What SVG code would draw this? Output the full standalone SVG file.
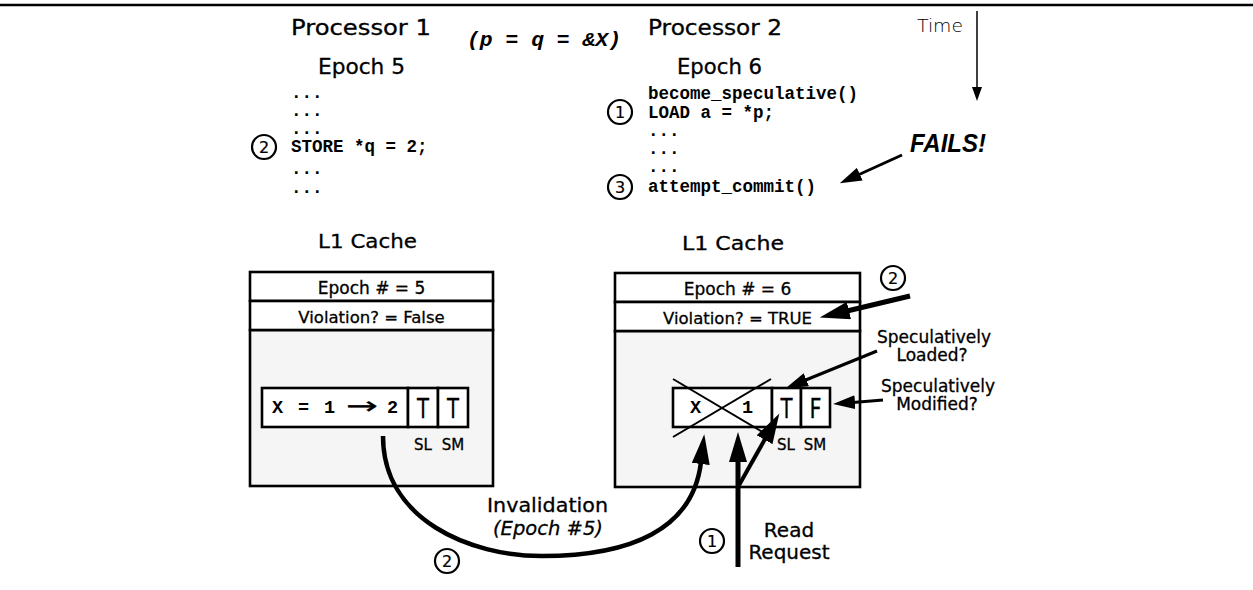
<svg xmlns="http://www.w3.org/2000/svg" width="1253" height="590" viewBox="0 0 1253 590">
<style>
.s{font-family:"DejaVu Sans","Liberation Sans",sans-serif;fill:#000;stroke:#000;stroke-width:0.3}
.m{font-family:"Liberation Mono","Courier New",monospace;font-weight:bold;fill:#000}
.box{fill:#fff;stroke:#000;stroke-width:2.6}
.gray{fill:#f5f5f5;stroke:#000;stroke-width:2.6}
.circ{fill:#fff;stroke:#000;stroke-width:2.2}
.ln{fill:none;stroke:#000}
.mid{text-anchor:middle}
.d{font-size:16px;stroke-width:0.2}
</style>
<defs>
<marker id="ah" markerUnits="userSpaceOnUse" viewBox="0 0 32 18" markerWidth="32" markerHeight="18" refX="2" refY="9" orient="auto"><path d="M0,0 L30,9 L0,18 z" fill="#000"/></marker>
<marker id="as" markerUnits="userSpaceOnUse" viewBox="0 0 24 14" markerWidth="24" markerHeight="14" refX="2" refY="7" orient="auto"><path d="M0,0 L22,7 L0,14 z" fill="#000"/></marker>
<marker id="at" markerUnits="userSpaceOnUse" viewBox="0 0 15 10" markerWidth="15" markerHeight="10" refX="1" refY="5" orient="auto"><path d="M0,0 L14,5 L0,10 z" fill="#000"/></marker>
</defs>

<line x1="0" y1="5" x2="1253" y2="5" stroke="#000" stroke-width="2.5"/>

<g id="header">
<text class="s" x="291" y="35" font-size="21" textLength="140" lengthAdjust="spacingAndGlyphs">Processor 1</text>
<text class="m" x="467" y="46" font-size="21" font-style="italic" textLength="154" lengthAdjust="spacingAndGlyphs">(p = q = &amp;X)</text>
<text class="s" x="648" y="35" font-size="21" textLength="134" lengthAdjust="spacingAndGlyphs">Processor 2</text>
<text x="917" y="32" font-family="DejaVu Sans,Liberation Sans,sans-serif" font-size="17" font-weight="200" fill="#000" textLength="46" lengthAdjust="spacingAndGlyphs">Time</text>
<text class="s" x="318" y="74" font-size="21" textLength="87" lengthAdjust="spacingAndGlyphs">Epoch 5</text>
<text class="s" x="677" y="74" font-size="21" textLength="85" lengthAdjust="spacingAndGlyphs">Epoch 6</text>
<text x="910" y="152" font-family="Liberation Sans,Arial,sans-serif" font-weight="bold" font-style="italic" font-size="25" textLength="76" lengthAdjust="spacingAndGlyphs">FAILS!</text>
</g>

<g id="code1">
<text class="m" x="291" y="98" font-size="17.5">...</text>
<text class="m" x="291" y="116" font-size="17.5">...</text>
<text class="m" x="291" y="134" font-size="17.5">...</text>
<text class="m" x="291" y="152" font-size="17.5">STORE *q = 2;</text>
<text class="m" x="291" y="174" font-size="17.5">...</text>
<text class="m" x="291" y="193" font-size="17.5">...</text>
<circle class="circ" cx="264" cy="147" r="12"/>
<text class="s mid d" x="264" y="153">2</text>
</g>

<g id="code2">
<text class="m" x="648" y="99" font-size="17.5">become_speculative()</text>
<text class="m" x="648" y="118" font-size="17.5">LOAD a = *p;</text>
<text class="m" x="648" y="136" font-size="17.5">...</text>
<text class="m" x="648" y="154" font-size="17.5">...</text>
<text class="m" x="648" y="172" font-size="17.5">...</text>
<text class="m" x="648" y="192" font-size="17.5">attempt_commit()</text>
<circle class="circ" cx="620" cy="112" r="12"/>
<text class="s mid d" x="620" y="118">1</text>
<circle class="circ" cx="620" cy="187" r="12"/>
<text class="s mid d" x="620" y="193">3</text>
</g>

<g id="cache1">
<text class="s" x="318" y="248" font-size="20" textLength="99" lengthAdjust="spacingAndGlyphs">L1 Cache</text>
<rect class="gray" x="250" y="330" width="243" height="156"/>
<rect class="box" x="250" y="272" width="243" height="29"/>
<rect class="box" x="250" y="301" width="243" height="29"/>
<text class="s mid" x="371.5" y="294" font-size="17">Epoch # = 5</text>
<text class="s mid" x="371.5" y="322.5" font-size="16.5">Violation? = False</text>
<rect class="box" x="262" y="388" width="146" height="39"/>
<rect class="box" x="408" y="388" width="30" height="39"/>
<rect class="box" x="438" y="388" width="30" height="39"/>
<text class="m" x="272" y="413" font-size="18.5" textLength="63" lengthAdjust="spacing">X = 1</text>
<text class="s" x="346" y="414" font-size="24" textLength="32" lengthAdjust="spacingAndGlyphs" stroke-width="0.8">→</text>
<text class="m" x="387" y="413" font-size="18.5">2</text>
<text class="s" x="417" y="418" font-size="27" textLength="12" lengthAdjust="spacingAndGlyphs">T</text>
<text class="s" x="447" y="418" font-size="27" textLength="12" lengthAdjust="spacingAndGlyphs">T</text>
<text class="s mid" x="423" y="450" font-size="15">SL</text>
<text class="s mid" x="453" y="450" font-size="15">SM</text>
</g>

<g id="cache2">
<text class="s" x="682" y="250" font-size="20" textLength="102" lengthAdjust="spacingAndGlyphs">L1 Cache</text>
<rect class="gray" x="615" y="331" width="245" height="156"/>
<rect class="box" x="615" y="273" width="245" height="29"/>
<rect class="box" x="615" y="302" width="245" height="29"/>
<text class="s mid" x="737.5" y="295" font-size="17">Epoch # = 6</text>
<text class="s mid" x="737.5" y="323.5" font-size="16.5">Violation? = TRUE</text>
<rect class="box" x="673" y="388" width="99" height="39"/>
<rect class="box" x="772" y="388" width="29" height="39"/>
<rect class="box" x="801" y="388" width="29" height="39"/>
<text class="m" x="690" y="413" font-size="18.5">X</text>
<text class="m" x="742" y="413" font-size="18.5">1</text>
<text class="s" x="780.5" y="418" font-size="27" textLength="12" lengthAdjust="spacingAndGlyphs">T</text>
<text class="s" x="809.5" y="418" font-size="27" textLength="12" lengthAdjust="spacingAndGlyphs">F</text>
<line class="ln" x1="673" y1="379" x2="771" y2="437" stroke-width="2"/>
<line class="ln" x1="771" y1="379" x2="673" y2="437" stroke-width="2"/>
<text class="s mid" x="786" y="450" font-size="15">SL</text>
<text class="s mid" x="815" y="450" font-size="15">SM</text>
</g>

<g id="labels">
<text class="s mid" x="934" y="343" font-size="17">Speculatively</text>
<text class="s mid" x="932" y="361" font-size="17">Loaded?</text>
<text class="s mid" x="938" y="392" font-size="17">Speculatively</text>
<text class="s mid" x="937" y="410" font-size="17">Modified?</text>
<text class="s" x="487" y="512" font-size="19" textLength="121" lengthAdjust="spacingAndGlyphs">Invalidation</text>
<text class="s" x="493" y="535" font-size="19" font-style="italic" textLength="110" lengthAdjust="spacingAndGlyphs">(Epoch #5)</text>
<text class="s mid" x="789" y="537" font-size="20">Read</text>
<text class="s mid" x="789" y="559" font-size="20">Request</text>
<circle class="circ" cx="893" cy="278" r="12"/>
<text class="s mid d" x="893" y="284">2</text>
<circle class="circ" cx="447" cy="561" r="12"/>
<text class="s mid d" x="447" y="567">2</text>
<circle class="circ" cx="712" cy="541" r="12"/>
<text class="s mid d" x="712" y="547">1</text>
</g>

<g id="connectors">
<path class="ln" d="M977,11 V88" stroke-width="1.5" marker-end="url(#at)"/>
<path class="ln" d="M902,155 L858,175" stroke-width="3" marker-end="url(#as)"/>
<path class="ln" d="M910,296 L847,311" stroke-width="5" marker-end="url(#ah)"/>
<path class="ln" d="M877,351 L804.5,380.5" stroke-width="3" marker-end="url(#as)"/>
<path class="ln" d="M883,400 L853,402.4" stroke-width="3" marker-end="url(#as)"/>
<path class="ln" d="M383,436 C383,520 470,556 542,556 C630,556 693,530 701,462" stroke-width="4.5" marker-end="url(#ah)"/>
<path class="ln" d="M738,567 V460" stroke-width="5" marker-end="url(#ah)"/>
<path class="ln" d="M738,487 L765.6,438" stroke-width="4" marker-end="url(#ah)"/>
</g>
</svg>
